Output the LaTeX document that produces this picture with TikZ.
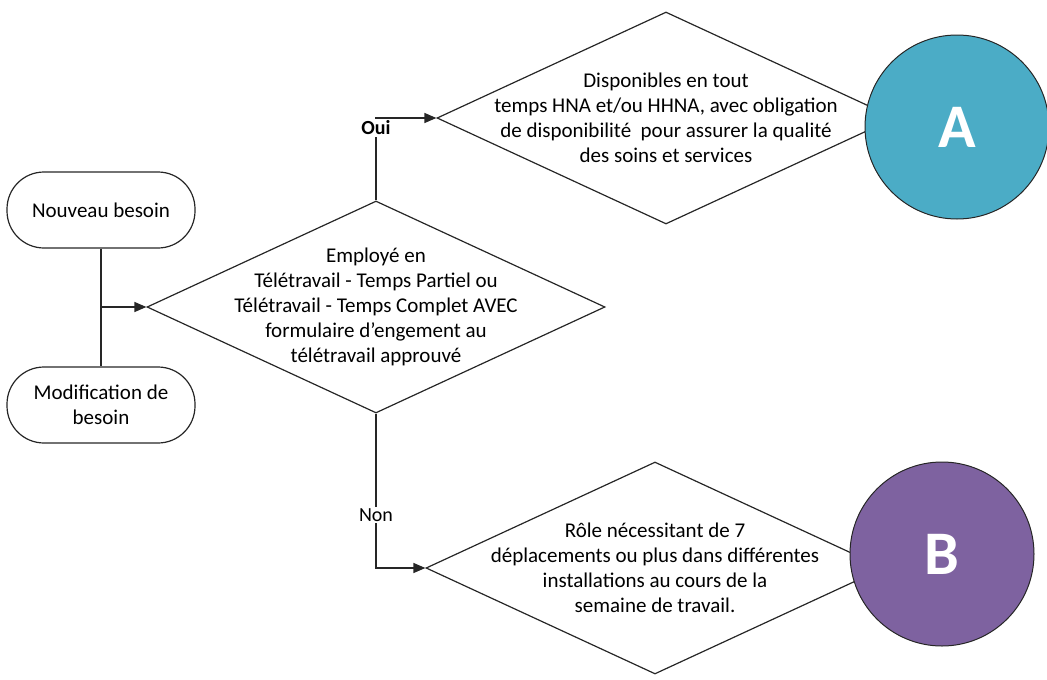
\documentclass[tikz,border=0pt]{standalone}
\usepackage{fontspec}
\setmainfont{Carlito}
\usetikzlibrary{shapes.geometric,arrows.meta}
\definecolor{aqua}{HTML}{4BACC6}
\definecolor{violet}{HTML}{7E62A0}
\begin{document}
\begin{tikzpicture}[x=1pt,y=-1pt,
  line/.style={draw=black!85, line width=1.2pt},
  term/.style={line, rounded corners=37pt, minimum width=188pt, minimum height=76pt, align=center, font=\fontsize{21}{25}\selectfont, inner sep=0pt},
  dia/.style={line, diamond, minimum width=458pt, minimum height=212pt, inner sep=0pt},
  dtxt/.style={align=center, font=\fontsize{21}{25}\selectfont},
  circ/.style={circle, draw=black!85, line width=1pt, minimum size=184pt, inner sep=0pt, text=white, font=\fontsize{62}{62}\selectfont\bfseries},
  arr/.style={line, -{Triangle[length=12pt,width=10pt]}},
  lbl/.style={fill=white, inner sep=1.5pt, font=\fontsize{21}{25}\selectfont}
]
\useasboundingbox (0,0) rectangle (1047,680);

\node[term] (n1) at (101,210) {Nouveau besoin};
\node[term] (n2) at (101,405) {Modification de\\besoin};
\coordinate (j) at (100,307);

\node[dia] (d1) at (376,307) {};
\node[dtxt] (t1) at (d1.center) {Employé en\\Télétravail - Temps Partiel ou\\Télétravail - Temps Complet AVEC\\formulaire d'engement au\\télétravail approuvé};

\node[dia] (d2) at (666,118) {};
\node[dtxt] (t2) at (d2.center) {Disponibles en tout\\temps HNA et/ou HHNA, avec obligation\\de disponibilité\ \ pour assurer la qualité\\des soins et services};

\node[dia] (d3) at (655,568) {};
\node[dtxt] (t3) at (d3.center) {Rôle nécessitant de 7\\déplacements ou plus dans différentes\\installations au cours de la\\semaine de travail.};

\node[circ, fill=aqua] (A) at (957,127) {A};
\node[circ, fill=violet] (B) at (942,554) {B};

\draw[line] (n1.south) -- (n2.north);
\draw[arr] (j) -- (d1.west);
\draw[arr] (d1.north) |- (d2.west);
\draw[arr] (d1.south) |- (d3.west);

\node[lbl, font=\fontsize{20}{24}\selectfont\bfseries] (oui) at (376,128) {Oui};
\node[lbl, font=\fontsize{20}{24}\selectfont] (non) at (376,515) {Non};
\end{tikzpicture}
\end{document}
